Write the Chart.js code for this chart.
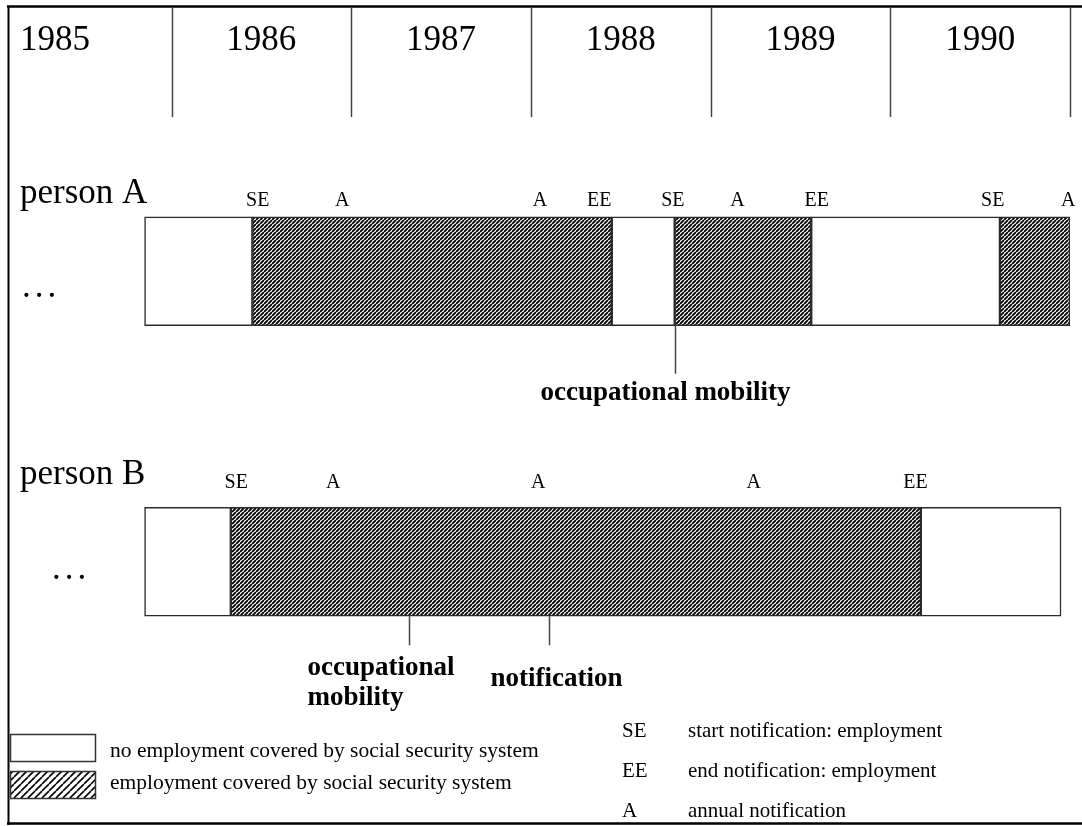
<!DOCTYPE html>
<html>
<head>
<meta charset="utf-8">
<script src="https://cdn.jsdelivr.net/npm/chart.js@4/dist/chart.umd.min.js"></script>
<style>
  html, body { margin: 0; padding: 0; background: #fff; }
  #wrap { position: relative; width: 1082px; height: 826px; }
</style>
</head>
<body>
<div id="wrap"><canvas id="timeline"></canvas></div>
<script>
// ---- data (years as decimals) ----
const persons = ['person A', 'person B'];
const yearLabels = ['1985', '1986', '1987', '1988', '1989', '1990'];

// spell boundaries and whether each spell is covered employment
const boundsA = [1985.85, 1986.45, 1988.45, 1988.80, 1989.56, 1990.61, 1991.00];
const coveredA = [false, true, false, true, false, true];
const boundsB = [1985.85, 1986.33, 1990.17, 1990.95];
const coveredB = [false, true, false];

// notifications written above the bars
const markCodesA = ['SE', 'A', 'A', 'EE', 'SE', 'A', 'EE', 'SE', 'A'];
const markYearsA = [1986.48, 1986.95, 1988.05, 1988.38, 1988.79, 1989.15, 1989.59, 1990.57, 1990.99];
const markCodesB = ['SE', 'A', 'A', 'A', 'EE'];
const markYearsB = [1986.36, 1986.90, 1988.04, 1989.24, 1990.14];

// call-outs under the bars
const noteTextsA = ['occupational mobility'];
const noteYearsA = [1988.80];
const noteTextsB = ['occupational\nmobility', 'notification'];
const noteYearsB = [1987.32, 1988.10];

const legendLabels = ['no employment covered by social security system',
                      'employment covered by social security system'];
const keyCodes = ['SE', 'EE', 'A'];
const keyTexts = ['start notification: employment', 'end notification: employment', 'annual notification'];

const SERIF = '"Liberation Serif", "Times New Roman", serif';

// diagonal "///" hatching
function makeHatch(step, width) {
  const c = document.createElement('canvas');
  c.width = c.height = step;
  const g = c.getContext('2d');
  g.fillStyle = '#fff';
  g.fillRect(0, 0, step, step);
  g.strokeStyle = '#000';
  g.lineWidth = width;
  g.beginPath();
  for (let k = -1; k <= 1; k++) {
    g.moveTo(k * step, step);
    g.lineTo(k * step + step, 0);
  }
  g.stroke();
  return g.createPattern(c, 'repeat');
}
const hatch = makeHatch(4, 1.9);
const hatchLegend = makeHatch(7, 1.6);

// one floating bar per spell, all drawn on the person's row
function spells(bounds, covered, row) {
  return covered.map((c, i) => {
    const data = persons.map(() => null);
    data[row] = [bounds[i], bounds[i + 1]];
    return {
      label: c ? legendLabels[1] : legendLabels[0],
      data: data,
      backgroundColor: c ? hatch : '#ffffff',
      borderColor: '#2a2a2a',
      borderWidth: 1.5,
      borderSkipped: false,
      grouped: false,
      barThickness: 109
    };
  });
}

// text, header, frame and legend drawn on top of the bars
const annotations = {
  id: 'annotations',
  afterDraw(chart) {
    const { ctx, chartArea } = chart;
    const x = chart.scales.x;
    const y = chart.scales.y;
    const W = chart.width;
    ctx.save();
    ctx.fillStyle = '#000';
    ctx.textBaseline = 'alphabetic';

    // frame
    ctx.strokeStyle = '#000';
    ctx.lineWidth = 2.5;
    ctx.beginPath();
    ctx.moveTo(7, 6.5); ctx.lineTo(W, 6.5);
    ctx.moveTo(7, 823.5); ctx.lineTo(W, 823.5);
    ctx.stroke();
    ctx.lineWidth = 2;
    ctx.beginPath();
    ctx.moveTo(8.5, 6); ctx.lineTo(8.5, 825);
    ctx.stroke();

    // year header
    ctx.strokeStyle = '#444';
    ctx.lineWidth = 1.5;
    ctx.font = '35px ' + SERIF;
    yearLabels.forEach((lab) => {
      const yr = +lab;
      const px = Math.round(x.getPixelForValue(yr + 1)) + 0.5;
      ctx.beginPath();
      ctx.moveTo(px, 8); ctx.lineTo(px, 117);
      ctx.stroke();
      if (x.getPixelForValue(yr) < chartArea.left) {
        ctx.textAlign = 'left';
        ctx.fillText(lab, 20, 50);
      } else {
        ctx.textAlign = 'center';
        ctx.fillText(lab, x.getPixelForValue(yr + 0.5), 50);
      }
    });

    // rows
    const rows = [
      { codes: markCodesA, years: markYearsA, texts: noteTextsA, notes: noteYearsA,
        markDy: 11, nameDy: 14, dotsX: 22, dotsDy: 26,
        styles: [{ align: 'center', dx: -10, len: 48, dy: 74 }] },
      { codes: markCodesB, years: markYearsB, texts: noteTextsB, notes: noteYearsB,
        markDy: 19, nameDy: 23, dotsX: 52, dotsDy: 17,
        styles: [{ align: 'left', dx: -102, len: 29, dy: 59 },
                 { align: 'left', dx: -59, len: 29, dy: 70 }] }
    ];
    rows.forEach((r, row) => {
      const mid = y.getPixelForValue(row);
      const top = mid - 109 / 2;
      const bottom = mid + 109 / 2;

      ctx.textAlign = 'left';
      ctx.font = '35px ' + SERIF;
      ctx.fillText(persons[row], 20, top - r.nameDy);
      ctx.letterSpacing = '4px';
      ctx.fillText('...', r.dotsX, mid + r.dotsDy);
      ctx.letterSpacing = '0px';

      ctx.textAlign = 'center';
      ctx.font = '20px ' + SERIF;
      r.codes.forEach((c, i) => {
        ctx.fillText(c, x.getPixelForValue(r.years[i]), top - r.markDy);
      });

      ctx.strokeStyle = '#444';
      ctx.lineWidth = 1.5;
      ctx.font = 'bold 27px ' + SERIF;
      r.texts.forEach((t, i) => {
        const s = r.styles[i];
        const px = Math.round(x.getPixelForValue(r.notes[i])) + 0.5;
        ctx.beginPath();
        ctx.moveTo(px, bottom); ctx.lineTo(px, bottom + s.len);
        ctx.stroke();
        ctx.textAlign = s.align;
        t.split('\n').forEach((line, k) => {
          ctx.fillText(line, px + s.dx, bottom + s.dy + k * 30);
        });
      });
    });

    // legend (fills)
    ctx.strokeStyle = '#333';
    ctx.lineWidth = 1.5;
    ['#ffffff', hatchLegend].forEach((fill, i) => {
      const by = 734.5 + i * 37;
      ctx.fillStyle = fill;
      ctx.fillRect(10.5, by, 85, 27);
      ctx.strokeRect(10.5, by, 85, 27);
    });
    ctx.fillStyle = '#000';
    ctx.textAlign = 'left';
    ctx.font = '21.5px ' + SERIF;
    legendLabels.forEach((t, i) => ctx.fillText(t, 110, 757 + i * 32));

    // legend (notification codes)
    ctx.font = '21px ' + SERIF;
    keyCodes.forEach((c, i) => {
      ctx.fillText(c, 622, 737 + i * 40);
      ctx.fillText(keyTexts[i], 688, 737 + i * 40);
    });

    ctx.restore();
  }
};

new Chart(document.getElementById('timeline'), {
  type: 'bar',
  data: {
    labels: persons,
    datasets: [...spells(boundsA, coveredA, 0), ...spells(boundsB, coveredB, 1)]
  },
  options: {
    indexAxis: 'y',
    responsive: true,
    maintainAspectRatio: false,
    animation: false,
    layout: { padding: { top: 126, bottom: 119, left: 8, right: 12 } },
    scales: {
      x: { type: 'linear', min: 1985.09, max: 1991, display: false },
      y: { type: 'category', display: false }
    },
    plugins: {
      legend: { display: false },
      tooltip: { enabled: false }
    }
  },
  plugins: [annotations]
});
</script>
</body>
</html>
